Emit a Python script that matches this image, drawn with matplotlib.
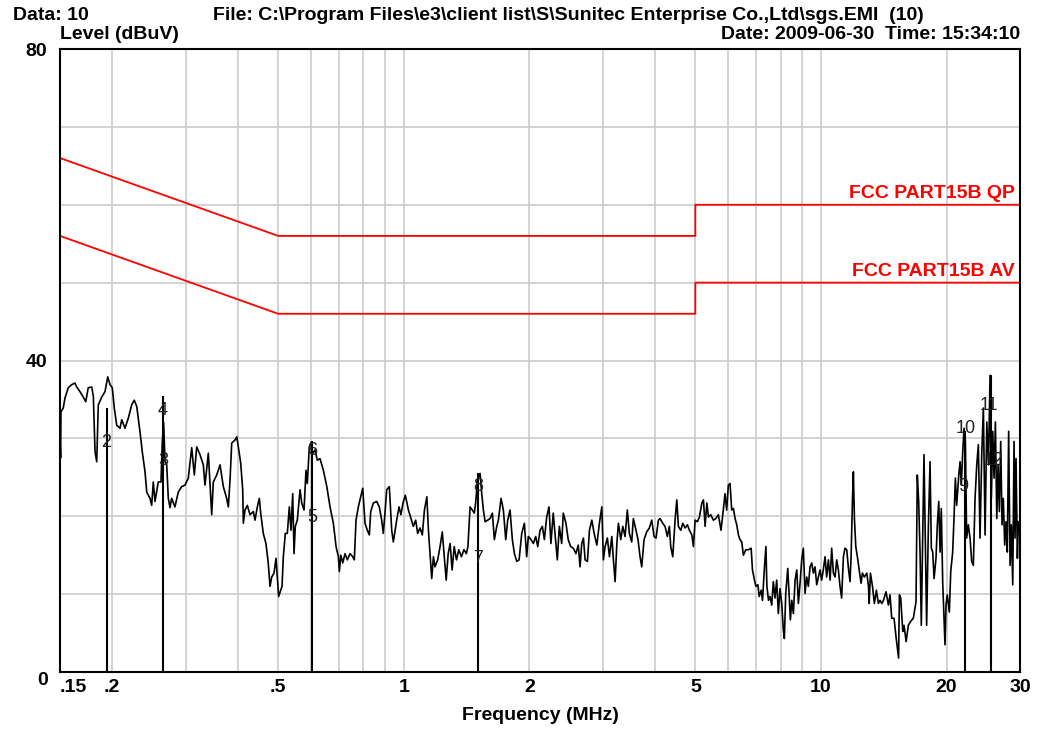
"""EMI 전도 방사 측정 결과 (FCC Part15B) 재현."""
import matplotlib
matplotlib.use("Agg")
import matplotlib.pyplot as plt
import matplotlib.transforms as mtransforms

plt.rcParams["font.family"] = ["Liberation Sans", "DejaVu Sans"]
plt.rcParams["font.weight"] = "bold"

# 측정 트레이스 (MHz, dBuV) - 그림에서 읽은 값
freq_mhz = [
    0.150, 0.1505, 0.1508, 0.1527, 0.1542, 0.1570, 0.1600, 0.1629, 0.1645, 0.1675,
    0.1706, 0.1729, 0.1753, 0.1787, 0.1803, 0.1820, 0.1837, 0.1853, 0.1888, 0.1923,
    0.1952, 0.1977, 0.2002, 0.2024, 0.2051, 0.2089, 0.2109, 0.2147, 0.2187, 0.2228,
    0.2260, 0.2291, 0.2333, 0.2362, 0.2398, 0.2421, 0.2465, 0.2488, 0.2510, 0.2534,
    0.2558, 0.2580, 0.2619, 0.2638, 0.2658, 0.2678, 0.2703, 0.2727, 0.2753, 0.2778,
    0.2829, 0.2881, 0.2936, 0.2990, 0.3045, 0.3103, 0.3148, 0.3190, 0.3249, 0.3308,
    0.3339, 0.3401, 0.3465, 0.3496, 0.3562, 0.3628,
    0.3695, 0.3763, 0.3798, 0.3834, 0.3870, 0.3942, 0.3979, 0.4014, 0.4067, 0.4112,
    0.4126, 0.4164, 0.4218, 0.4281, 0.4360, 0.4401, 0.4457, 0.4507, 0.4541, 0.4606,
    0.4674, 0.4734, 0.4781, 0.4826, 0.4887, 0.4941, 0.4977, 0.5014, 0.5070, 0.5108,
    0.5145, 0.5202, 0.5260, 0.5318, 0.5368, 0.5418, 0.5458, 0.5497, 0.5558, 0.5642,
    0.5695, 0.5767, 0.5831, 0.5873, 0.5938, 0.5984, 0.6050, 0.6128, 0.6206, 0.6300,
    0.6417, 0.6541, 0.6658, 0.6781, 0.6884, 0.6971, 0.7009, 0.7064, 0.7142, 0.7233,
    0.7326, 0.7435, 0.7546, 0.7613, 0.7685, 0.7784, 0.7856, 0.7974, 0.8076, 0.8179,
    0.8270, 0.8334, 0.8455, 0.8614, 0.8738, 0.8855, 0.8933, 0.9017, 0.9102, 0.9235,
    0.9358, 0.9442, 0.9619, 0.9743, 0.9846, 0.9958, 1.009, 1.026, 1.041, 1.054,
    1.068, 1.080, 1.094, 1.108, 1.121, 1.136, 1.146, 1.156, 1.167, 1.178,
    1.188, 1.206, 1.222, 1.237, 1.251, 1.264, 1.278, 1.292, 1.306, 1.321,
    1.338, 1.355, 1.375, 1.394, 1.413, 1.425, 1.442, 1.460, 1.476, 1.487,
    1.503, 1.524, 1.538, 1.552, 1.567, 1.590, 1.610, 1.631, 1.649, 1.671,
    1.686, 1.711, 1.733, 1.756, 1.775, 1.798, 1.821, 1.842, 1.866, 1.890,
    1.918, 1.946, 1.971, 1.989, 2.019, 2.045, 2.072, 2.095, 2.122, 2.149,
    2.173, 2.201, 2.229, 2.253, 2.282,
    2.334, 2.360, 2.391, 2.412, 2.448, 2.479, 2.513, 2.549, 2.587, 2.620,
    2.646, 2.671, 2.696, 2.721, 2.756, 2.787, 2.824, 2.860, 2.903, 2.944,
    2.984, 3.010, 3.038, 3.077, 3.112, 3.153, 3.181, 3.211, 3.242, 3.270,
    3.313, 3.350, 3.392, 3.435, 3.473, 3.519, 3.551, 3.604, 3.644, 3.685,
    3.719, 3.767, 3.823, 3.879, 3.931, 3.981, 4.025, 4.077, 4.115, 4.176,
    4.230, 4.284, 4.332, 4.365, 4.414, 4.471, 4.513, 4.553, 4.614, 4.665,
    4.725, 4.786, 4.839, 4.904, 4.947, 4.994, 5.058, 5.114, 5.182, 5.228,
    5.277, 5.327, 5.375, 5.443, 5.522, 5.596,
    5.677, 5.760, 5.834, 5.889, 5.944, 5.999, 6.055, 6.112, 6.169, 6.226,
    6.284, 6.342, 6.399, 6.459, 6.518, 6.605, 6.701, 6.803, 6.853, 6.929,
    6.983, 7.061, 7.112, 7.191, 7.243, 7.323, 7.380, 7.421, 7.487, 7.551,
    7.622, 7.689, 7.760, 7.833, 7.904, 7.979, 8.054, 8.126, 8.171, 8.235,
    8.327, 8.387, 8.448, 8.513, 8.589, 8.670, 8.751, 8.829, 8.911, 8.994,
    9.074, 9.159, 9.245, 9.327, 9.416, 9.504, 9.589, 9.679, 9.770, 9.859,
    9.950, 10.04, 10.13, 10.23, 10.32, 10.42, 10.52, 10.61, 10.71, 10.81,
    10.91, 11.01, 11.11, 11.21, 11.32, 11.42, 11.53, 11.63, 11.74, 11.81,
    11.90, 11.96, 12.03, 12.12, 12.26, 12.35, 12.48, 12.57, 12.71, 12.88,
    13.00, 13.05, 13.14, 13.29, 13.43, 13.58, 13.73, 13.86, 13.99, 14.12,
    14.32, 14.51, 14.64, 14.78, 14.97, 15.15, 15.35, 15.42, 15.53, 15.71,
    15.82, 16.00, 16.20, 16.41, 16.65, 16.90, 17.02, 17.15, 17.28, 17.40,
    17.53, 17.66, 17.79, 17.92, 18.09, 18.26, 18.39, 18.53, 18.67, 18.87,
    19.01, 19.16, 19.30, 19.43, 19.58, 19.72, 19.83, 19.94, 20.08, 20.31,
    20.47, 20.69, 20.84, 21.00, 21.15, 21.40, 21.55, 21.70, 21.87, 22.03,
    22.19, 22.35, 22.56, 22.77, 22.98, 23.19, 23.41, 23.63, 23.84, 24.06,
    24.29, 24.51, 24.74, 24.98, 25.21, 25.43, 25.61, 25.81, 26.00, 26.19,
    26.39, 26.58, 26.77, 26.97, 27.17, 27.36, 27.57, 27.77, 27.97, 28.18,
    28.40, 28.60, 28.82, 29.03, 29.19, 29.35, 29.57, 29.73,
]
level_dbuv = [
    30.0, 27.5, 33.4, 33.9, 35.2, 36.5, 36.9, 37.1, 36.6, 36.0,
    35.3, 34.7, 36.5, 36.6, 35.4, 28.3, 27.0, 34.3, 35.3, 36.0,
    37.9, 36.9, 36.5, 33.9, 31.7, 31.3, 32.4, 31.3, 32.6, 34.3,
    34.9, 34.1, 30.8, 28.3, 25.7, 23.1, 22.3, 21.4, 24.4, 21.9,
    23.2, 24.4, 24.4, 29.5, 32.0, 27.0, 26.6, 22.3, 21.1, 22.3,
    21.2, 23.1, 23.8, 24.0, 24.9, 28.8, 25.3, 28.9, 27.9, 26.6,
    24.0, 28.1, 20.2, 24.4, 25.3, 26.6,
    23.8, 22.3, 21.2, 24.7, 29.4, 29.8, 30.2, 28.9, 26.8, 23.4,
    19.1, 20.8, 21.4, 20.2, 20.6, 19.5, 21.2, 22.3, 20.4, 17.8,
    16.5, 14.0, 11.0, 12.2, 12.7, 14.6, 12.2, 9.7, 10.5, 11.0,
    14.8, 17.8, 17.8, 21.2, 18.2, 22.9, 15.2, 18.7, 19.5, 23.4,
    21.7, 20.8, 25.9, 24.2, 28.9, 29.4, 28.1, 28.5, 27.2, 27.4,
    25.9, 23.8, 21.2, 19.1, 16.1, 14.8, 12.9, 15.0, 14.0, 15.2,
    14.4, 15.2, 14.8, 14.4, 19.5, 21.2, 22.1, 23.6, 19.1, 18.2,
    17.6, 20.6, 21.7, 21.9, 21.2, 19.5, 17.8, 20.4, 23.4, 23.8,
    18.2, 16.7, 19.5, 21.2, 20.2, 21.7, 22.7, 20.8, 19.7, 18.7,
    19.5, 17.8, 18.5, 17.6, 20.8, 22.5, 18.2, 15.2, 12.0, 14.8,
    13.5, 14.4, 16.1, 18.0, 14.8, 11.8, 15.2, 16.5, 13.1, 16.1,
    14.4, 15.7, 14.8, 15.7, 15.2, 16.1, 21.2, 20.8, 20.4, 21.7,
    24.7, 25.5, 22.9, 20.8, 19.3, 19.5, 19.7, 20.4, 17.0, 18.7,
    19.5, 22.3, 20.8, 17.0, 19.5, 20.8, 17.0, 15.2, 14.2, 14.4,
    17.8, 19.1, 14.8, 17.4, 17.0, 16.5, 17.4, 16.1, 18.2, 18.7,
    17.0, 19.9, 21.2, 16.5, 20.4,
    14.4, 18.7, 16.5, 20.4, 19.1, 17.0, 16.1, 15.9, 15.2, 16.3,
    13.5, 16.5, 17.2, 14.4, 14.2, 18.2, 19.5, 17.8, 16.3, 19.1,
    21.2, 14.4, 16.1, 17.2, 14.8, 17.4, 14.4, 11.6, 16.5, 19.1,
    17.0, 18.7, 17.4, 20.8, 17.8, 16.7, 19.7, 18.2, 17.0, 14.8,
    13.5, 17.0, 18.0, 18.5, 19.5, 17.4, 17.2, 19.5, 19.7, 19.1,
    18.7, 17.4, 18.7, 16.1, 14.8, 19.5, 22.1, 18.7, 18.2, 19.1,
    18.5, 18.9, 18.2, 17.6, 16.1, 19.5, 19.3, 19.9, 21.7, 22.1,
    18.7, 21.7, 19.9, 20.2, 19.5, 19.7,
    20.2, 18.2, 20.8, 22.9, 20.8, 24.0, 24.2, 20.8, 21.0, 19.7,
    18.9, 17.6, 17.0, 16.7, 15.0, 15.7, 15.7, 15.9, 13.1, 11.8,
    11.0, 11.2, 9.7, 10.5, 9.2, 13.5, 16.1, 11.0, 9.2, 9.7,
    8.6, 11.6, 9.5, 11.8, 7.5, 10.7, 8.8, 5.4, 4.3, 10.1,
    13.3, 10.1, 6.7, 9.2, 7.5, 11.8, 13.1, 8.8, 11.4, 14.4,
    15.9, 10.1, 12.2, 11.0, 13.5, 14.0, 12.7, 13.5, 11.2, 12.2,
    13.1, 11.8, 13.1, 14.8, 12.2, 14.4, 11.8, 15.9, 12.7, 12.2,
    14.4, 13.1, 11.0, 9.5, 14.8, 15.9, 15.7, 13.5, 11.6, 14.8,
    22.1, 25.7, 19.7, 16.1, 14.4, 13.1, 11.4, 12.7, 12.2, 12.7,
    11.0, 8.8, 12.7, 11.0, 8.8, 10.5, 8.8, 9.2, 8.8, 9.2,
    10.3, 8.6, 9.9, 6.9, 6.9, 4.3, 1.8, 9.9, 9.5, 5.2,
    6.0, 3.9, 6.0, 6.5, 6.9, 9.0, 25.3, 21.9, 15.4, 6.0,
    17.2, 27.9, 17.2, 6.0, 18.5, 27.0, 15.9, 15.4, 12.0, 14.6,
    18.9, 21.9, 15.4, 21.0, 11.6, 6.9, 3.5, 8.6, 9.9, 7.7,
    12.9, 15.4, 19.7, 24.9, 21.4, 25.3, 27.0, 24.0, 28.3, 31.3,
    29.6, 17.2, 18.9, 17.2, 14.2, 13.7, 22.3, 26.6, 29.2, 17.2,
    27.9, 33.9, 17.6, 32.1, 26.6, 38.1, 22.3, 30.9, 24.9, 32.1,
    19.7, 26.6, 20.6, 29.6, 18.9, 22.3, 16.3, 19.3, 15.4, 30.9,
    13.7, 18.9, 11.2, 29.6, 17.2, 27.4, 14.6, 19.3,
]

# FCC Part15B 한계선
qp_freq = [0.15, 0.5, 5.0, 5.0, 30.0]
qp_level = [66, 56, 56, 60, 60]
av_freq = [0.15, 0.5, 5.0, 5.0, 30.0]
av_level = [56, 46, 46, 50, 50]

# 마커 (세로선)
marker_freq = [0.194, 0.265, 0.603, 1.506, 22.2, 25.6]
marker_top = [33.9, 35.4, 29.6, 25.5, 30.9, 38.1]

# 마커 번호
label_text = ["2", "3", "4", "5", "6", "7", "8", "9", "10", "11", "12"]
label_freq = [0.194, 0.265, 0.265, 0.603, 0.603, 1.506, 1.506, 21.9, 22.2, 25.3, 25.9]
label_level = [29.5, 27.2, 33.6, 19.8, 28.5, 14.6, 23.8, 23.8, 31.3, 34.2, 27.2]

xtick_vals = [0.15, 0.2, 0.5, 1, 2, 5, 10, 20, 30]
xtick_text = [".15", ".2", ".5", "1", "2", "5", "10", "20", "30"]
xgrid_vals = [0.2, 0.3, 0.4, 0.5, 0.6, 0.7, 0.8, 0.9, 1, 2, 3, 4, 5, 6, 7, 8, 9, 10, 20]
ytick_vals = [0, 40, 80]
ygrid_vals = [10, 20, 30, 40, 50, 60, 70]

FS = 14


def main():
    fig = plt.figure(figsize=(10.38, 7.29), dpi=100)
    ax = fig.add_axes([60 / 1038, 1 - 672 / 729, 960 / 1038, 623 / 729])

    ax.set_xscale("log")
    ax.set_xlim(0.15, 30)
    ax.set_ylim(0, 80)

    # 주 눈금과 겹치는 보조 격자선도 그리도록
    ax.xaxis.remove_overlapping_locs = False
    ax.yaxis.remove_overlapping_locs = False
    ax.set_xticks(xtick_vals)
    ax.set_xticklabels(xtick_text)
    ax.set_xticks(xgrid_vals, minor=True)
    ax.set_xticklabels([], minor=True)
    ax.set_yticks(ytick_vals)
    ax.set_yticks(ygrid_vals, minor=True)
    ax.tick_params(which="both", length=0, labelsize=FS)
    ax.tick_params(axis="x", pad=5)
    ax.tick_params(axis="y", pad=9)
    for lab in ax.get_xticklabels() + ax.get_yticklabels():
        lab.set_fontweight("bold")
    ax.get_xticklabels()[0].set_horizontalalignment("left")
    ax.get_yticklabels()[0].set_verticalalignment("top")

    ax.grid(True, which="minor", color="#cccccc", lw=1.2)
    ax.set_axisbelow(True)
    for sp in ax.spines.values():
        sp.set_color("black")
        sp.set_linewidth(1.5)

    # 한계선
    ax.plot(qp_freq, qp_level, color="red", lw=1.3)
    ax.plot(av_freq, av_level, color="red", lw=1.3)
    trans = mtransforms.blended_transform_factory(ax.transAxes, ax.transData)
    ax.text(0.995, qp_level[-1] + 0.4, "FCC PART15B QP", transform=trans,
            ha="right", va="bottom", color="red", fontsize=14, fontweight="bold")
    ax.text(0.995, av_level[-1] + 0.4, "FCC PART15B AV", transform=trans,
            ha="right", va="bottom", color="red", fontsize=14, fontweight="bold")

    # 측정 트레이스
    ax.plot(freq_mhz, level_dbuv, color="black", lw=1.2)

    # 마커
    ax.vlines(marker_freq, 0, marker_top, color="black", lw=1.5)
    for t, f, v in zip(label_text, label_freq, label_level):
        ax.text(f, v, t, ha="center", va="center", fontsize=13,
                fontweight="normal", color="#222222")

    ax.set_xlabel("Frequency (MHz)", fontsize=FS, fontweight="bold", labelpad=8)

    # 헤더
    fig.text(13 / 1038, 1 - 20 / 729, "Data: 10", fontsize=FS, fontweight="bold",
             va="baseline")
    fig.text(213 / 1038, 1 - 20 / 729,
             "File: C:\\Program Files\\e3\\client list\\S\\Sunitec Enterprise Co.,Ltd\\sgs.EMI  (10)",
             fontsize=FS, fontweight="bold", va="baseline")
    fig.text(60 / 1038, 1 - 39 / 729, "Level (dBuV)", fontsize=FS, fontweight="bold",
             va="baseline")
    fig.text(1020 / 1038, 1 - 39 / 729, "Date: 2009-06-30  Time: 15:34:10",
             fontsize=FS, fontweight="bold", va="baseline", ha="right")

    fig.savefig("out.png", dpi=100, facecolor="white")
    plt.close(fig)


if __name__ == "__main__":
    main()
